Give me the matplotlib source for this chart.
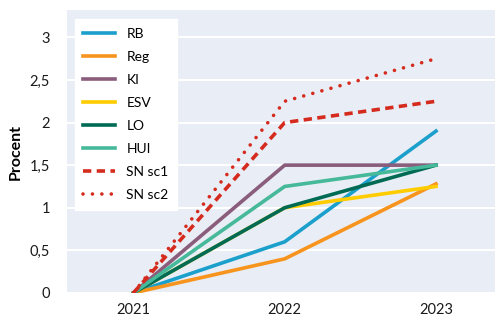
import matplotlib
matplotlib.use("Agg")
import matplotlib.pyplot as plt

years = [2021, 2022, 2023]
rb = [0, 0.6, 1.9]
reg = [0, 0.4, 1.28]
ki = [0, 1.5, 1.5]
esv = [0, 1.0, 1.25]
lo = [0, 1.0, 1.5]
hui = [0, 1.25, 1.5]
sn_sc1 = [0, 2.0, 2.25]
sn_sc2 = [0, 2.25, 2.75]
yticks = [0, 0.5, 1, 1.5, 2, 2.5, 3]
ytick_labels = ["0", "0,5", "1", "1,5", "2", "2,5", "3"]

plt.rcParams["font.family"] = ["Lato", "DejaVu Sans"]

fig = plt.figure(figsize=(4.95, 3.17), dpi=100)
ax = fig.add_axes([0.135, 0.076, 0.865, 0.892])
ax.set_facecolor("#e9edf5")

lw = 2.6
ax.plot(years, rb, color="#1b9fcb", lw=lw, label="RB")
ax.plot(years, reg, color="#f7941d", lw=lw, label="Reg")
ax.plot(years, ki, color="#8a5d7c", lw=lw, label="KI")
ax.plot(years, esv, color="#ffcc00", lw=lw, label="ESV")
ax.plot(years, lo, color="#006b54", lw=lw, label="LO")
ax.plot(years, hui, color="#46b99a", lw=lw, label="HUI")
ax.plot(years, sn_sc1, color="#d52b1e", lw=lw, ls=(0, (2.3, 1.5)),
        label="SN sc1")
ax.plot(years, sn_sc2, color="#d52b1e", lw=lw, ls=(0, (0.01, 2.6)),
        dash_capstyle="round", label="SN sc2")

ax.set_xlim(2020.56, 2023.39)
ax.set_ylim(0, 3.32)
ax.set_xticks(years)
ax.set_xticklabels([str(y) for y in years])
ax.set_yticks(yticks)
ax.set_yticklabels(ytick_labels)
ax.tick_params(length=0, labelsize=10.5, colors="#1a1a1a")
ax.tick_params(axis="x", pad=7)
ax.tick_params(axis="y", pad=12)
ax.grid(axis="y", color="white", lw=1.5)
ax.set_axisbelow(True)
for s in ax.spines.values():
    s.set_visible(False)
ax.set_ylabel("Procent", fontsize=11.5, fontweight="bold", labelpad=5)

ax.legend(loc="upper left", bbox_to_anchor=(0.019, 0.968), fontsize=10,
          frameon=True, fancybox=False, framealpha=1, edgecolor="white",
          handlelength=2.3, labelspacing=0.8, borderpad=0.6,
          borderaxespad=0)

fig.savefig("out.png", dpi=100)
